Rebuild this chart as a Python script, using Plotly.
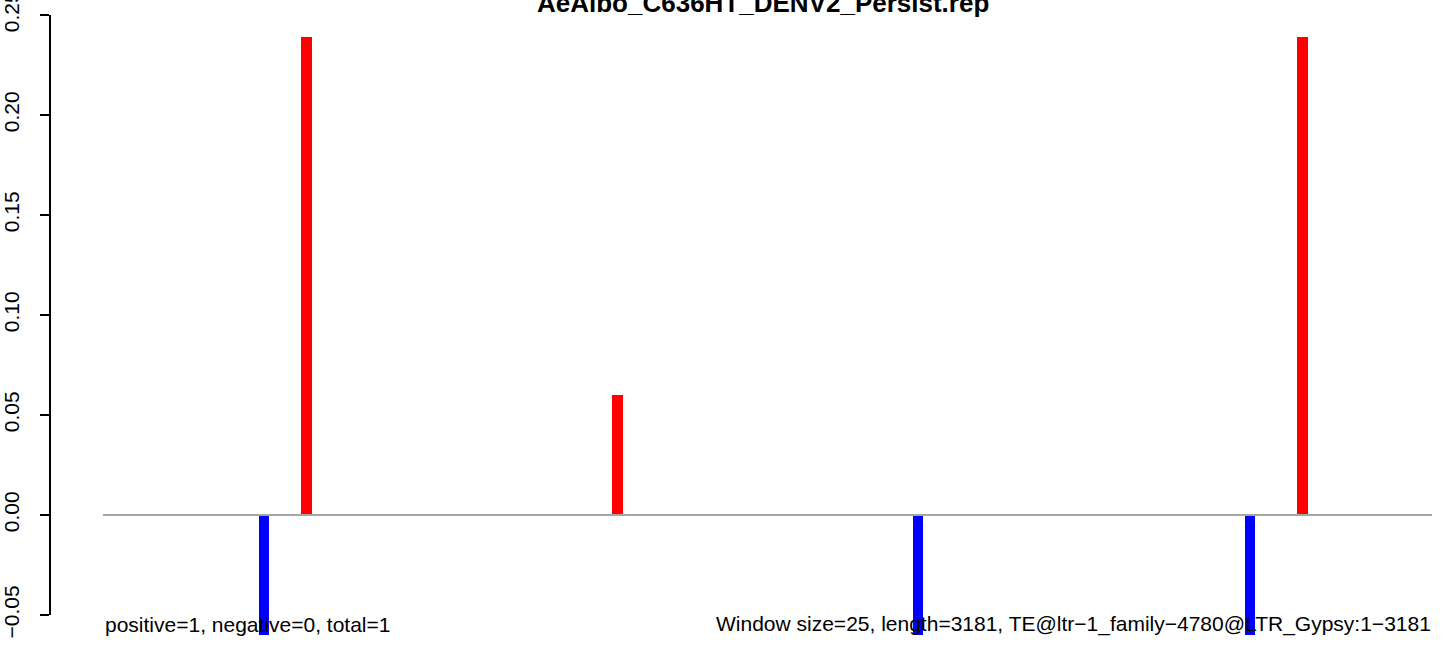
import plotly.graph_objects as go

# ---- data ----
title_text = "AeAlbo_C636HT_DENV2_Persist.rep"
seq_length = 3181
window_size = 25
pos_x = [487, 1231, 2871]
pos_y = [0.239, 0.06, 0.239]
neg_x = [386, 1951, 2746]
neg_y = [-0.06, -0.06, -0.06]
ytick_vals = [-0.05, 0.0, 0.05, 0.10, 0.15, 0.20, 0.25]
ytick_text = ["\u22120.05", "0.00", "0.05", "0.10", "0.15", "0.20", "0.25"]
left_note = "positive=1, negative=0, total=1"
right_note = "Window size=25, length=3181, TE@ltr\u22121_family\u22124780@LTR_Gypsy:1\u22123181"

W, H = 1444, 646
FONT = "Liberation Sans, Arial, Helvetica, sans-serif"

fig = go.Figure()
fig.add_trace(go.Bar(x=pos_x, y=pos_y, width=window_size, base=0,
                     marker=dict(color="#FF0000", line=dict(width=0)), showlegend=False))
fig.add_trace(go.Bar(x=neg_x, y=[-v for v in neg_y], width=window_size, base=neg_y,
                     marker=dict(color="#0000FF", line=dict(width=0)), showlegend=False))

# zero line
fig.add_shape(type="line", x0=0, x1=seq_length, y0=0, y1=0, xref="x", yref="y",
              line=dict(color="#A6A6A6", width=2), layer="above")
# y axis line (only spanning tick range)
fig.add_shape(type="line", x0=0, x1=0, y0=ytick_vals[0], y1=ytick_vals[-1], xref="paper", yref="y",
              line=dict(color="black", width=2), layer="above")

# pixel mapping: x px 103 -> 0, 1432 -> 3181 ; plot area x from 50 to 1444
sx = seq_length / (1432 - 103)
xr = [(50 - 103) * sx, (W - 103) * sx]
# y px 515 -> 0, 2000 px per unit ; plot area from 0 to 646
yr = [(515 - H) / 2000.0, 515 / 2000.0]

fig.update_layout(
    width=W, height=H,
    margin=dict(l=50, r=0, t=0, b=0, autoexpand=False),
    plot_bgcolor="white", paper_bgcolor="white",
    bargap=0, barmode="overlay",
    font=dict(family=FONT, size=21, color="black"),
    xaxis=dict(range=xr, visible=False, showgrid=False, zeroline=False, automargin=False),
    yaxis=dict(range=yr, showgrid=False, zeroline=False, showline=False, automargin=False,
               tickmode="array", tickvals=ytick_vals, ticktext=ytick_text,
               ticks="outside", ticklen=9, tickwidth=2, tickcolor="black",
               ticklabelstandoff=13, ticklabeloverflow="allow",
               tickangle=-90, tickfont=dict(family=FONT, size=21, color="black")),
)

def px_to_paper_x(px):
    return (px - 50) / (W - 50)

def px_to_paper_y(py):
    return 1 - py / H

fig.add_annotation(text="<b>" + title_text + "</b>", xref="paper", yref="paper",
                   x=px_to_paper_x(763), y=px_to_paper_y(3), xanchor="center", yanchor="middle",
                   showarrow=False, font=dict(family=FONT, size=26, color="black"))
fig.add_annotation(text=left_note, xref="paper", yref="paper",
                   x=px_to_paper_x(103), y=px_to_paper_y(624), xanchor="left", yanchor="middle",
                   showarrow=False, font=dict(family=FONT, size=21, color="black"))
fig.add_annotation(text=right_note, xref="paper", yref="paper",
                   x=px_to_paper_x(1433), y=px_to_paper_y(624), xanchor="right", yanchor="middle",
                   showarrow=False, font=dict(family=FONT, size=21, color="black"))

fig.write_html("out.html", config={"displayModeBar": False},
               post_script="document.body.style.margin='0';document.body.style.padding='0';")
